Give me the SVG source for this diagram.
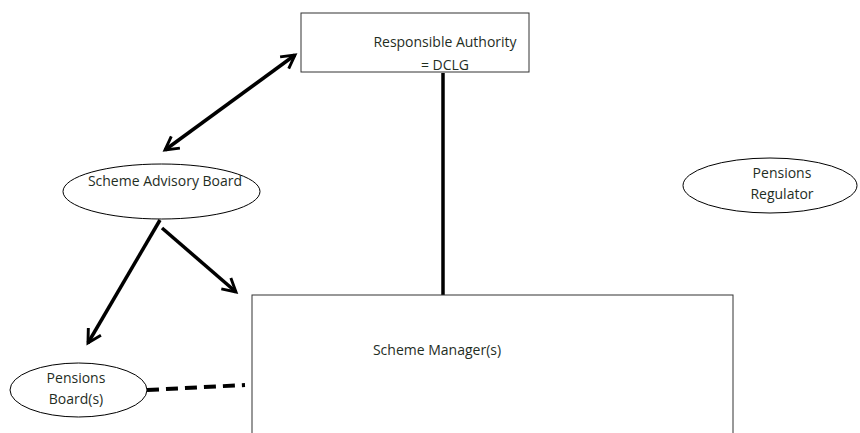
<svg xmlns="http://www.w3.org/2000/svg" width="860" height="433" viewBox="0 0 860 433">
<style>
.box{fill:#fff;stroke:#333;stroke-width:1}
.ell{fill:#fff;stroke:#000;stroke-width:1}
.t{font-family:"Open Sans","Liberation Sans",sans-serif;font-size:14px;fill:#1f2e1f;text-anchor:middle}
.c{stroke:#000;stroke-width:3.5;fill:none}
.d{stroke:#000;stroke-width:4;fill:none;stroke-dasharray:12 7}
</style>
<defs>
<marker id="ah" viewBox="0 0 12 12" refX="10" refY="6" markerWidth="5" markerHeight="5" orient="auto-start-reverse" markerUnits="strokeWidth">
<path d="M1,1 L10,6 L1,11" fill="none" stroke="#000" stroke-width="2"/>
</marker>
</defs>
<g id="connectors">
<line class="c" x1="443" y1="73" x2="443" y2="295"/>
<line class="c" x1="165" y1="150" x2="295" y2="55" marker-start="url(#ah)" marker-end="url(#ah)"/>
<line class="c" x1="160" y1="220" x2="88" y2="343" marker-end="url(#ah)"/>
<line class="c" x1="162" y1="228" x2="236" y2="292" marker-end="url(#ah)"/>
<line class="d" x1="147" y1="390" x2="245" y2="385"/>
</g>
<g id="responsible-authority">
<rect class="box" x="301" y="13" width="228" height="59"/>
<text class="t" x="445" y="47">Responsible Authority</text>
<text class="t" x="445" y="70">= DCLG</text>
</g>
<g id="scheme-manager">
<rect class="box" x="252" y="295" width="481" height="150"/>
<text class="t" x="437" y="355">Scheme Manager(s)</text>
</g>
<g id="scheme-advisory-board">
<ellipse class="ell" cx="161.5" cy="191.5" rx="98.5" ry="27.5"/>
<text class="t" x="165" y="186">Scheme Advisory Board</text>
</g>
<g id="pensions-boards">
<ellipse class="ell" cx="78.5" cy="390" rx="68.5" ry="27"/>
<text class="t" x="76" y="383">Pensions</text>
<text class="t" x="76" y="404">Board(s)</text>
</g>
<g id="pensions-regulator">
<ellipse class="ell" cx="770" cy="185.5" rx="87" ry="27.5"/>
<text class="t" x="782" y="178">Pensions</text>
<text class="t" x="782" y="199">Regulator</text>
</g>
</svg>
